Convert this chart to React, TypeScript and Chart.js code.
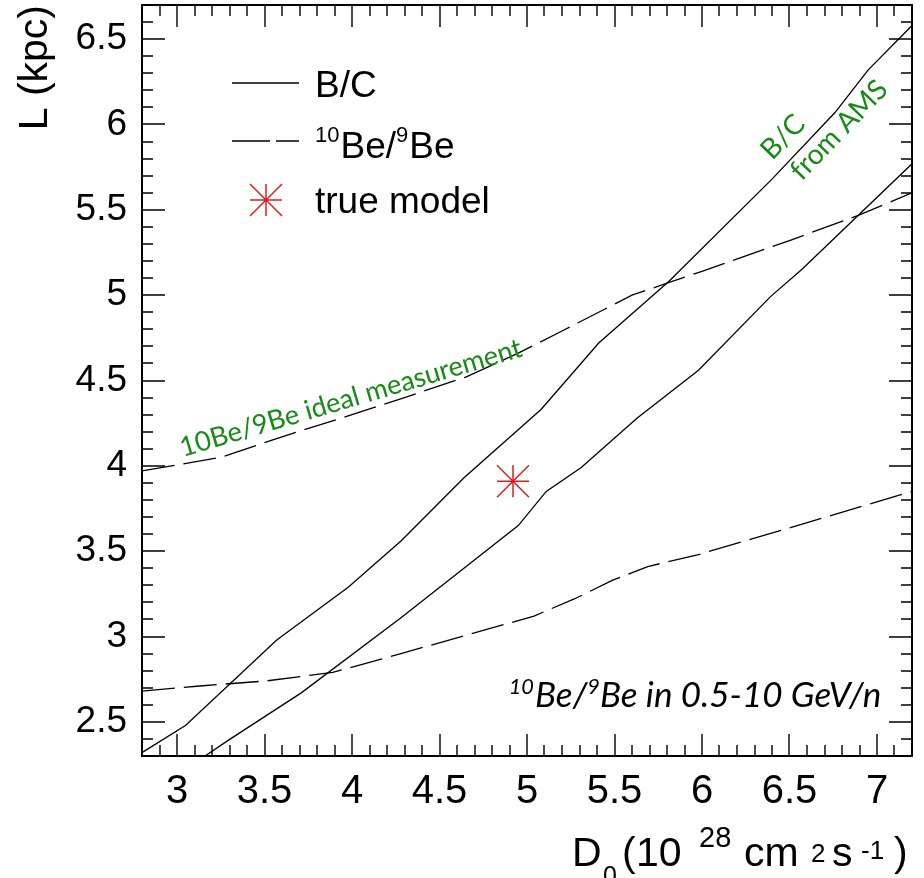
import React, { useEffect, useRef } from 'react';
import { Chart, registerables } from 'chart.js';

Chart.register(...registerables);

// ---------------- data ----------------
const bcUpperD0 = [2.8, 3.05, 3.57, 3.98, 4.28, 4.64, 5.08, 5.41, 5.81, 6.4, 6.76, 6.95, 7.2];
const bcUpperL = [2.32, 2.48, 2.98, 3.29, 3.56, 3.93, 4.33, 4.72, 5.08, 5.68, 6.07, 6.32, 6.58];
const bcLowerD0 = [3.16, 3.29, 3.71, 4.28, 4.95, 5.11, 5.31, 5.63, 5.98, 6.39, 6.57, 7.2];
const bcLowerL = [2.3, 2.39, 2.67, 3.11, 3.65, 3.85, 3.99, 4.28, 4.56, 4.99, 5.15, 5.77];
const beUpperD0 = [2.8, 3.25, 3.6, 4.0, 4.3, 4.65, 4.95, 5.2, 5.6, 5.8, 6.0, 6.5, 6.9, 7.2];
const beUpperL = [3.97, 4.05, 4.17, 4.3, 4.4, 4.52, 4.66, 4.79, 5.0, 5.07, 5.14, 5.32, 5.47, 5.6];
const beLowerD0 = [2.8, 3.13, 3.51, 3.89, 4.28, 4.8, 5.04, 5.27, 5.49, 5.69, 5.98, 6.28, 7.2];
const beLowerL = [2.68, 2.71, 2.74, 2.79, 2.9, 3.05, 3.12, 3.22, 3.33, 3.41, 3.48, 3.57, 3.85];
const trueD0 = [4.92];
const trueL = [3.91];

const xRange = [2.8, 7.2];
const yRange = [2.3, 6.7];
const xTickValues = [3, 3.5, 4, 4.5, 5, 5.5, 6, 6.5, 7];
const yTickValues = [2.5, 3, 3.5, 4, 4.5, 5, 5.5, 6, 6.5];

const legendLabels = ['B/C', 'Be/', 'Be', 'true model'];
const yTitle = 'L (kpc)';
const greenBe = '10Be/9Be ideal measurement';
const greenBC = ['B/C', 'from AMS'];

// ---------------- styles ----------------
const FAM = '"Liberation Sans", Arial, Helvetica, sans-serif';
const GFAM = 'Lato, "Open Sans", sans-serif';
const GREEN = '#178a17';
const RED = '#dc1e1e';

const pts = (xs: number[], ys: number[]) => xs.map((x, i) => ({ x, y: ys[i] }));

const zeroPadding = (s: any) => {
  s.paddingLeft = 0;
  s.paddingRight = 0;
  s.paddingTop = 0;
  s.paddingBottom = 0;
  s.getPadding = () => ({ left: 0, right: 0, top: 0, bottom: 0 });
};

const frameTicks = {
  id: 'frameTicks',
  afterDraw(chart: any) {
    const { ctx, chartArea: a, scales } = chart;
    const xs = scales.x;
    const ys = scales.y;
    ctx.save();
    ctx.strokeStyle = '#000';
    ctx.lineWidth = 1.4;
    ctx.beginPath();
    for (let i = Math.ceil(xs.min * 10 - 1e-6); i <= Math.floor(xs.max * 10 + 1e-6); i++) {
      const px = Math.round(xs.getPixelForValue(i / 10));
      const len = i % 5 === 0 ? 22 : 11;
      ctx.moveTo(px, a.bottom);
      ctx.lineTo(px, a.bottom - len);
      ctx.moveTo(px, a.top);
      ctx.lineTo(px, a.top + len);
    }
    for (let i = Math.ceil(ys.min * 10 - 1e-6); i <= Math.floor(ys.max * 10 + 1e-6); i++) {
      const py = Math.round(ys.getPixelForValue(i / 10));
      const len = i % 5 === 0 ? 23 : 11;
      ctx.moveTo(a.left, py);
      ctx.lineTo(a.left + len, py);
      ctx.moveTo(a.right, py);
      ctx.lineTo(a.right - len, py);
    }
    ctx.stroke();
    ctx.lineWidth = 2;
    ctx.strokeRect(a.left, a.top, a.right - a.left, a.bottom - a.top);
    ctx.restore();
  },
};

function drawAsterisk(ctx: CanvasRenderingContext2D, cx: number, cy: number, r: number) {
  ctx.beginPath();
  ctx.moveTo(cx - r, cy);
  ctx.lineTo(cx + r, cy);
  ctx.moveTo(cx, cy - r);
  ctx.lineTo(cx, cy + r);
  ctx.moveTo(cx - r, cy - r);
  ctx.lineTo(cx + r, cy + r);
  ctx.moveTo(cx - r, cy + r);
  ctx.lineTo(cx + r, cy - r);
  ctx.stroke();
}

const annotations = {
  id: 'annotations',
  afterDraw(chart: any) {
    const ctx: CanvasRenderingContext2D = chart.ctx;
    ctx.save();
    ctx.textAlign = 'left';
    ctx.textBaseline = 'alphabetic';

    // ---- legend ----
    ctx.strokeStyle = '#000';
    ctx.lineWidth = 1.3;
    ctx.beginPath();
    ctx.moveTo(232, 83);
    ctx.lineTo(299, 83);
    ctx.stroke();
    ctx.setLineDash([38, 6]);
    ctx.beginPath();
    ctx.moveTo(232, 141);
    ctx.lineTo(299, 141);
    ctx.stroke();
    ctx.setLineDash([]);
    ctx.strokeStyle = RED;
    ctx.lineWidth = 1.5;
    drawAsterisk(ctx, 266, 200, 16);

    ctx.fillStyle = '#000';
    ctx.font = `37px ${FAM}`;
    ctx.fillText(legendLabels[0], 315, 97);
    let x = 315;
    ctx.font = `22px ${FAM}`;
    ctx.fillText('10', x, 142);
    x += ctx.measureText('10').width + 1;
    ctx.font = `37px ${FAM}`;
    ctx.fillText(legendLabels[1], x, 158);
    x += ctx.measureText(legendLabels[1]).width;
    ctx.font = `22px ${FAM}`;
    ctx.fillText('9', x, 142);
    x += ctx.measureText('9').width + 1;
    ctx.font = `37px ${FAM}`;
    ctx.fillText(legendLabels[2], x, 158);
    ctx.fillText(legendLabels[3], 315, 213);

    // ---- green annotation: 10Be/9Be ideal measurement ----
    ctx.fillStyle = GREEN;
    ctx.font = `100px ${GFAM}`;
    const gs = (100 * 356) / ctx.measureText(greenBe).width;
    ctx.font = `${gs.toFixed(1)}px ${GFAM}`;
    ctx.save();
    ctx.translate(183, 457);
    ctx.rotate((-16.5 * Math.PI) / 180);
    ctx.fillText(greenBe, 0, 0);
    ctx.restore();

    // ---- green annotation: B/C from AMS ----
    ctx.font = `100px ${GFAM}`;
    const bs = (100 * 126) / ctx.measureText(greenBC[1]).width;
    ctx.font = `${bs.toFixed(1)}px ${GFAM}`;
    ctx.textAlign = 'center';
    ctx.textBaseline = 'middle';
    ctx.save();
    ctx.translate(783, 137);
    ctx.rotate((-46 * Math.PI) / 180);
    ctx.fillText(greenBC[0], 0, 0);
    ctx.restore();
    ctx.save();
    ctx.translate(839, 130);
    ctx.rotate((-46 * Math.PI) / 180);
    ctx.fillText(greenBC[1], 0, 0);
    ctx.restore();

    // ---- italic label ----
    ctx.textAlign = 'left';
    ctx.textBaseline = 'alphabetic';
    ctx.fillStyle = '#000';
    ctx.font = `italic 100px ${GFAM}`;
    const w1 = ctx.measureText('Be/').width;
    const w2 = ctx.measureText('Be in 0.5-10 GeV/n').width;
    ctx.font = `italic 62px ${GFAM}`;
    const w9 = ctx.measureText('9').width;
    const fs = (100 * 347) / (w1 + w2 + w9);
    const ss = fs * 0.62;
    ctx.font = `italic ${ss.toFixed(1)}px ${GFAM}`;
    ctx.textAlign = 'right';
    ctx.fillText('10', 534, 694);
    ctx.textAlign = 'left';
    x = 535;
    ctx.font = `italic ${fs.toFixed(1)}px ${GFAM}`;
    ctx.fillText('Be/', x, 707);
    x += ctx.measureText('Be/').width;
    ctx.font = `italic ${ss.toFixed(1)}px ${GFAM}`;
    ctx.fillText('9', x, 694);
    x += ctx.measureText('9').width;
    ctx.font = `italic ${fs.toFixed(1)}px ${GFAM}`;
    ctx.fillText('Be in 0.5-10 GeV/n', x, 707);

    // ---- x axis title: D0 (10^28 cm^2 s^-1) ----
    const big = `41px ${FAM}`;
    const small = `26px ${FAM}`;
    ctx.font = big;
    ctx.fillText('D', 572, 866);
    ctx.font = `25px ${FAM}`;
    ctx.fillText('0', 603, 884);
    ctx.font = big;
    ctx.fillText('(', 622, 866);
    ctx.fillText('10', 636, 866);
    ctx.font = `29px ${FAM}`;
    ctx.fillText('28', 699, 847);
    ctx.font = big;
    ctx.fillText('cm', 744, 866);
    ctx.font = small;
    ctx.fillText('2', 811, 862);
    ctx.font = big;
    ctx.fillText('s', 832, 866);
    ctx.font = small;
    ctx.fillText('-1', 861, 859);
    ctx.font = big;
    ctx.fillText(')', 894, 866);

    ctx.restore();
  },
};

export default function App() {
  const ref = useRef<HTMLCanvasElement | null>(null);

  useEffect(() => {
    if (!ref.current) return;
    const lineStyle = {
      showLine: true,
      pointRadius: 0,
      borderColor: '#000',
      backgroundColor: '#000',
      borderWidth: 1.3,
      tension: 0,
      fill: false,
    };
    const chart = new Chart(ref.current, {
      type: 'scatter',
      data: {
        datasets: [
          { label: 'B/C', data: pts(bcUpperD0, bcUpperL), ...lineStyle },
          { label: 'B/C from AMS', data: pts(bcLowerD0, bcLowerL), ...lineStyle },
          { label: '10Be/9Be ideal measurement', data: pts(beUpperD0, beUpperL), ...lineStyle, borderDash: [33, 9] },
          { label: '10Be/9Be in 0.5-10 GeV/n', data: pts(beLowerD0, beLowerL), ...lineStyle, borderDash: [33, 9] },
          {
            label: 'true model',
            data: pts(trueD0, trueL),
            showLine: false,
            pointStyle: 'cross',
            pointRadius: 16,
            pointBorderColor: RED,
            pointBackgroundColor: RED,
            pointBorderWidth: 1.5,
          },
          {
            label: 'true model (diagonals)',
            data: pts(trueD0, trueL),
            showLine: false,
            pointStyle: 'crossRot',
            pointRadius: 22.6,
            pointBorderColor: RED,
            pointBackgroundColor: RED,
            pointBorderWidth: 1.5,
          },
        ],
      } as any,
      options: {
        animation: false,
        responsive: true,
        maintainAspectRatio: false,
        devicePixelRatio: 1,
        layout: { autoPadding: false, padding: { top: 5, right: 12, left: 0, bottom: 0 } },
        plugins: { legend: { display: false }, tooltip: { enabled: false }, title: { display: false } },
        scales: {
          x: {
            type: 'linear',
            position: 'bottom',
            min: xRange[0],
            max: xRange[1],
            grid: { display: false, drawTicks: false },
            border: { display: false },
            afterBuildTicks: (s: any) => {
              s.ticks = xTickValues.map((v) => ({ value: v }));
            },
            afterFit: (s: any) => {
              s.height = 122;
              zeroPadding(s);
            },
            ticks: {
              color: '#000',
              font: { family: FAM, size: 40 },
              padding: 12,
              maxRotation: 0,
              autoSkip: false,
              callback: (v: any) => String(v),
            },
          },
          y: {
            type: 'linear',
            min: yRange[0],
            max: yRange[1],
            grid: { display: false, drawTicks: false },
            border: { display: false },
            afterBuildTicks: (s: any) => {
              s.ticks = yTickValues.map((v) => ({ value: v }));
            },
            afterFit: (s: any) => {
              s.width = 142;
              zeroPadding(s);
            },
            ticks: {
              color: '#000',
              font: { family: FAM, size: 37 },
              padding: 15,
              autoSkip: false,
              callback: (v: any) => String(v),
            },
            title: {
              display: true,
              text: yTitle,
              align: 'end',
              color: '#000',
              font: { family: FAM, size: 41 },
              padding: { top: 11, bottom: 0 },
            },
          },
        },
      } as any,
      plugins: [frameTicks, annotations],
    });
    return () => chart.destroy();
  }, []);

  return (
    <div style={{ position: 'absolute', left: 0, top: 0, width: 924, height: 878, background: '#fff' }}>
      <canvas ref={ref} />
    </div>
  );
}
